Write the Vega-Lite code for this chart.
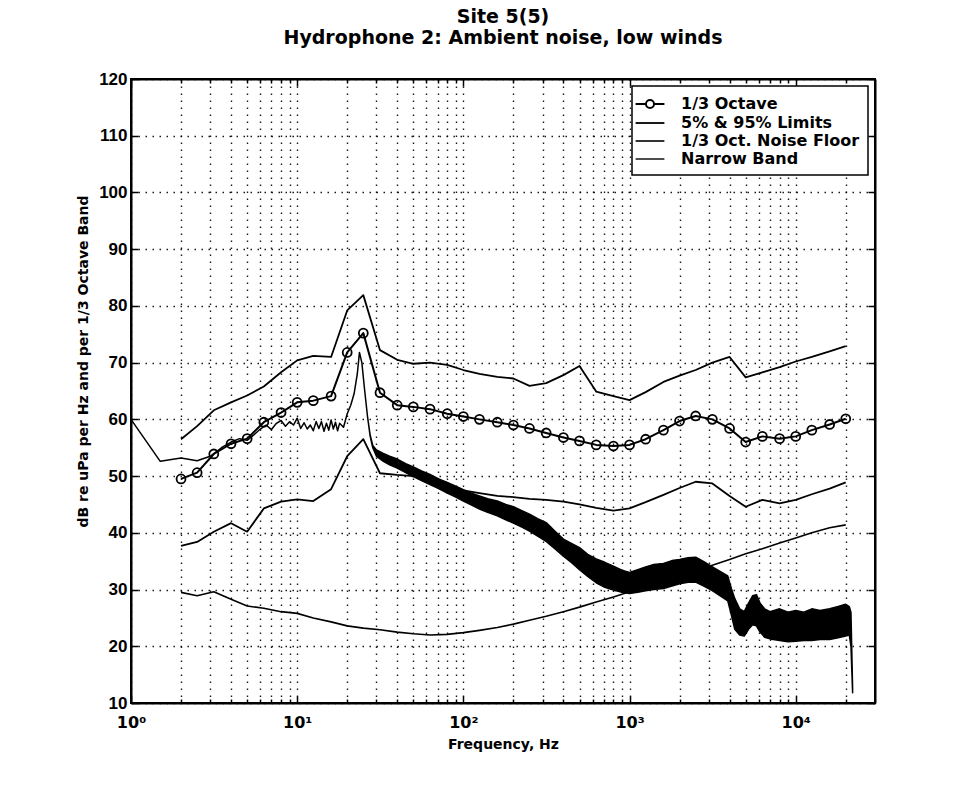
{
  "$schema": "https://vega.github.io/schema/vega-lite/v6.json",
  "width": 744,
  "height": 624,
  "autosize": {"type": "none"},
  "padding": {"left": 131, "top": 79, "right": 84, "bottom": 86},
  "background": "white",
  "title": {
    "text": ["Site 5(5)", "Hydrophone 2: Ambient noise, low winds"],
    "font": "DejaVu Sans",
    "fontSize": 19,
    "fontWeight": "bold",
    "lineHeight": 21,
    "anchor": "middle",
    "frame": "group",
    "offset": 22,
    "color": "black"
  },
  "config": {
    "view": {"stroke": "black", "strokeWidth": 2},
    "font": "DejaVu Sans"
  },
  "datasets": {
    "nb": [
      {"f":1,"lo":60,"hi":60},{"f":1.5,"lo":52.6,"hi":52.6},{"f":2,"lo":53.2,"hi":53.2},{"f":2.5,"lo":52.7,"hi":52.7},
      {"f":3,"lo":53.5,"hi":53.5},{"f":3.5,"lo":55.0,"hi":55.0},{"f":4,"lo":56.0,"hi":56.0},{"f":4.5,"lo":56.6,"hi":56.6},
      {"f":5,"lo":56.3,"hi":56.3},{"f":5.5,"lo":57.3,"hi":57.3},{"f":6,"lo":58.3,"hi":58.3},{"f":6.5,"lo":59.0,"hi":59.0},
      {"f":7,"lo":58.2,"hi":58.2},{"f":7.5,"lo":59.3,"hi":59.3},{"f":8,"lo":59.8,"hi":59.8},{"f":8.5,"lo":58.8,"hi":58.8},
      {"f":9,"lo":59.6,"hi":59.6},{"f":9.5,"lo":59.0,"hi":59.0},{"f":10,"lo":60.2,"hi":60.2},{"f":10.5,"lo":58.4,"hi":58.4},
      {"f":11,"lo":59.4,"hi":59.4},{"f":11.5,"lo":58.3,"hi":58.3},{"f":12,"lo":59.0,"hi":59.0},{"f":12.5,"lo":58.0,"hi":58.0},
      {"f":13,"lo":59.6,"hi":59.6},{"f":13.5,"lo":58.4,"hi":58.4},{"f":14,"lo":59.6,"hi":59.6},{"f":14.5,"lo":57.9,"hi":57.9},
      {"f":15,"lo":59.3,"hi":59.3},{"f":15.5,"lo":58.1,"hi":58.1},{"f":16,"lo":59.9,"hi":59.9},{"f":16.5,"lo":58.3,"hi":58.3},
      {"f":17,"lo":59.5,"hi":59.5},{"f":17.5,"lo":58.0,"hi":58.0},{"f":18,"lo":59.3,"hi":59.3},{"f":19,"lo":58.6,"hi":58.6},
      {"f":19.5,"lo":59.8,"hi":59.8},{"f":20,"lo":61.0,"hi":61.0},{"f":21,"lo":62.5,"hi":62.5},{"f":22,"lo":64.5,"hi":64.5},
      {"f":23,"lo":68.0,"hi":68.0},{"f":23.7,"lo":71.8,"hi":71.8},{"f":24.5,"lo":70.0,"hi":70.0},{"f":25.5,"lo":65.0,"hi":65.0},
      {"f":26.5,"lo":60.5,"hi":60.5},{"f":27.5,"lo":57.0,"hi":57.2},{"f":28.5,"lo":55.0,"hi":55.4},{"f":30,"lo":53.5,"hi":54.6},
      {"f":33,"lo":52.6,"hi":54.0},{"f":36,"lo":52.0,"hi":53.5},{"f":40,"lo":51.4,"hi":53.0},{"f":45,"lo":50.6,"hi":52.2},
      {"f":50,"lo":49.9,"hi":51.6},{"f":56,"lo":49.2,"hi":50.9},{"f":63,"lo":48.5,"hi":50.3},{"f":71,"lo":47.8,"hi":49.5},
      {"f":80,"lo":47.0,"hi":48.9},{"f":90,"lo":46.3,"hi":48.2},{"f":100,"lo":45.6,"hi":47.6},{"f":112,"lo":44.9,"hi":47.0},
      {"f":125,"lo":44.2,"hi":46.5},{"f":140,"lo":43.6,"hi":46.0},{"f":160,"lo":43.0,"hi":45.6},{"f":180,"lo":42.3,"hi":45.0},
      {"f":200,"lo":41.7,"hi":44.6},{"f":225,"lo":41.0,"hi":43.9},{"f":250,"lo":40.3,"hi":43.3},{"f":280,"lo":39.4,"hi":42.5},
      {"f":315,"lo":38.5,"hi":41.8},{"f":355,"lo":37.2,"hi":40.3},{"f":400,"lo":35.9,"hi":38.9},{"f":450,"lo":34.7,"hi":38.1},
      {"f":500,"lo":33.5,"hi":37.4},{"f":560,"lo":32.3,"hi":36.2},{"f":630,"lo":31.2,"hi":35.4},{"f":710,"lo":30.4,"hi":34.8},
      {"f":800,"lo":29.9,"hi":34.1},{"f":900,"lo":29.5,"hi":33.4},{"f":1000,"lo":29.3,"hi":33.0},{"f":1120,"lo":29.5,"hi":33.5},
      {"f":1250,"lo":29.8,"hi":34.0},{"f":1400,"lo":30.0,"hi":34.4},{"f":1600,"lo":30.2,"hi":34.6},{"f":1800,"lo":30.6,"hi":35.1},
      {"f":2000,"lo":31.0,"hi":35.3},{"f":2250,"lo":31.3,"hi":35.6},{"f":2500,"lo":31.3,"hi":35.7},{"f":2800,"lo":30.6,"hi":34.9},
      {"f":3150,"lo":29.8,"hi":34.0},{"f":3550,"lo":28.8,"hi":33.1},{"f":3900,"lo":28.0,"hi":32.4},{"f":4100,"lo":25.5,"hi":30.2},
      {"f":4300,"lo":23.0,"hi":28.4},{"f":4600,"lo":22.0,"hi":26.6},{"f":4900,"lo":21.8,"hi":26.1},{"f":5200,"lo":23.0,"hi":27.6},
      {"f":5500,"lo":23.8,"hi":28.9},{"f":5800,"lo":23.6,"hi":29.1},{"f":6100,"lo":22.5,"hi":27.6},{"f":6500,"lo":21.6,"hi":26.6},
      {"f":7000,"lo":21.3,"hi":26.1},{"f":8000,"lo":21.0,"hi":26.6},{"f":9000,"lo":20.8,"hi":26.0},{"f":10000,"lo":20.9,"hi":26.3},
      {"f":11200,"lo":21.0,"hi":26.0},{"f":12500,"lo":21.0,"hi":26.6},{"f":14000,"lo":21.2,"hi":26.3},{"f":16000,"lo":21.2,"hi":26.6},
      {"f":18000,"lo":21.5,"hi":27.0},{"f":20000,"lo":21.8,"hi":27.4},{"f":21000,"lo":22.0,"hi":27.0},{"f":21500,"lo":20.0,"hi":26.0},
      {"f":22000,"lo":11.8,"hi":12.5}
    ],
    "lines": [
      {"s":"1/3 Octave","g":"oct","f":2,"v":49.5},{"s":"1/3 Octave","g":"oct","f":2.5,"v":50.6},{"s":"1/3 Octave","g":"oct","f":3.15,"v":53.9},
      {"s":"1/3 Octave","g":"oct","f":4,"v":55.7},{"s":"1/3 Octave","g":"oct","f":5,"v":56.6},{"s":"1/3 Octave","g":"oct","f":6.3,"v":59.5},
      {"s":"1/3 Octave","g":"oct","f":8,"v":61.2},{"s":"1/3 Octave","g":"oct","f":10,"v":63.0},{"s":"1/3 Octave","g":"oct","f":12.5,"v":63.3},
      {"s":"1/3 Octave","g":"oct","f":16,"v":64.1},{"s":"1/3 Octave","g":"oct","f":20,"v":71.8},{"s":"1/3 Octave","g":"oct","f":25,"v":75.2},
      {"s":"1/3 Octave","g":"oct","f":31.5,"v":64.7},{"s":"1/3 Octave","g":"oct","f":40,"v":62.5},{"s":"1/3 Octave","g":"oct","f":50,"v":62.2},
      {"s":"1/3 Octave","g":"oct","f":63,"v":61.8},{"s":"1/3 Octave","g":"oct","f":80,"v":61.0},{"s":"1/3 Octave","g":"oct","f":100,"v":60.5},
      {"s":"1/3 Octave","g":"oct","f":125,"v":60.0},{"s":"1/3 Octave","g":"oct","f":160,"v":59.5},{"s":"1/3 Octave","g":"oct","f":200,"v":59.0},
      {"s":"1/3 Octave","g":"oct","f":250,"v":58.4},{"s":"1/3 Octave","g":"oct","f":315,"v":57.6},{"s":"1/3 Octave","g":"oct","f":400,"v":56.8},
      {"s":"1/3 Octave","g":"oct","f":500,"v":56.2},{"s":"1/3 Octave","g":"oct","f":630,"v":55.5},{"s":"1/3 Octave","g":"oct","f":800,"v":55.3},
      {"s":"1/3 Octave","g":"oct","f":1000,"v":55.5},{"s":"1/3 Octave","g":"oct","f":1250,"v":56.5},{"s":"1/3 Octave","g":"oct","f":1600,"v":58.1},
      {"s":"1/3 Octave","g":"oct","f":2000,"v":59.7},{"s":"1/3 Octave","g":"oct","f":2500,"v":60.6},{"s":"1/3 Octave","g":"oct","f":3150,"v":60.0},
      {"s":"1/3 Octave","g":"oct","f":4000,"v":58.4},{"s":"1/3 Octave","g":"oct","f":5000,"v":56.0},{"s":"1/3 Octave","g":"oct","f":6300,"v":57.0},
      {"s":"1/3 Octave","g":"oct","f":8000,"v":56.6},{"s":"1/3 Octave","g":"oct","f":10000,"v":57.0},{"s":"1/3 Octave","g":"oct","f":12500,"v":58.1},
      {"s":"1/3 Octave","g":"oct","f":16000,"v":59.1},{"s":"1/3 Octave","g":"oct","f":20000,"v":60.1},

      {"s":"5% & 95% Limits","g":"p95","f":2,"v":56.5},{"s":"5% & 95% Limits","g":"p95","f":2.5,"v":58.8},{"s":"5% & 95% Limits","g":"p95","f":3.15,"v":61.6},
      {"s":"5% & 95% Limits","g":"p95","f":4,"v":63.0},{"s":"5% & 95% Limits","g":"p95","f":5,"v":64.2},{"s":"5% & 95% Limits","g":"p95","f":6.3,"v":65.8},
      {"s":"5% & 95% Limits","g":"p95","f":8,"v":68.3},{"s":"5% & 95% Limits","g":"p95","f":10,"v":70.4},{"s":"5% & 95% Limits","g":"p95","f":12.5,"v":71.2},
      {"s":"5% & 95% Limits","g":"p95","f":16,"v":71.0},{"s":"5% & 95% Limits","g":"p95","f":20,"v":79.2},{"s":"5% & 95% Limits","g":"p95","f":25,"v":81.9},
      {"s":"5% & 95% Limits","g":"p95","f":31.5,"v":72.2},{"s":"5% & 95% Limits","g":"p95","f":40,"v":70.5},{"s":"5% & 95% Limits","g":"p95","f":50,"v":69.8},
      {"s":"5% & 95% Limits","g":"p95","f":63,"v":70.0},{"s":"5% & 95% Limits","g":"p95","f":80,"v":69.6},{"s":"5% & 95% Limits","g":"p95","f":100,"v":68.7},
      {"s":"5% & 95% Limits","g":"p95","f":125,"v":68.0},{"s":"5% & 95% Limits","g":"p95","f":160,"v":67.5},{"s":"5% & 95% Limits","g":"p95","f":200,"v":67.2},
      {"s":"5% & 95% Limits","g":"p95","f":250,"v":65.9},{"s":"5% & 95% Limits","g":"p95","f":315,"v":66.4},{"s":"5% & 95% Limits","g":"p95","f":400,"v":67.8},
      {"s":"5% & 95% Limits","g":"p95","f":500,"v":69.4},{"s":"5% & 95% Limits","g":"p95","f":630,"v":64.9},{"s":"5% & 95% Limits","g":"p95","f":800,"v":64.1},
      {"s":"5% & 95% Limits","g":"p95","f":1000,"v":63.4},{"s":"5% & 95% Limits","g":"p95","f":1250,"v":64.8},{"s":"5% & 95% Limits","g":"p95","f":1600,"v":66.6},
      {"s":"5% & 95% Limits","g":"p95","f":2000,"v":67.7},{"s":"5% & 95% Limits","g":"p95","f":2500,"v":68.7},{"s":"5% & 95% Limits","g":"p95","f":3150,"v":70.0},
      {"s":"5% & 95% Limits","g":"p95","f":4000,"v":71.0},{"s":"5% & 95% Limits","g":"p95","f":5000,"v":67.4},{"s":"5% & 95% Limits","g":"p95","f":6300,"v":68.3},
      {"s":"5% & 95% Limits","g":"p95","f":8000,"v":69.2},{"s":"5% & 95% Limits","g":"p95","f":10000,"v":70.2},{"s":"5% & 95% Limits","g":"p95","f":12500,"v":71.0},
      {"s":"5% & 95% Limits","g":"p95","f":16000,"v":72.0},{"s":"5% & 95% Limits","g":"p95","f":20000,"v":72.9},

      {"s":"5% & 95% Limits","g":"p05","f":2,"v":37.7},{"s":"5% & 95% Limits","g":"p05","f":2.5,"v":38.4},{"s":"5% & 95% Limits","g":"p05","f":3.15,"v":40.2},
      {"s":"5% & 95% Limits","g":"p05","f":4,"v":41.7},{"s":"5% & 95% Limits","g":"p05","f":5,"v":40.2},{"s":"5% & 95% Limits","g":"p05","f":6.3,"v":44.3},
      {"s":"5% & 95% Limits","g":"p05","f":8,"v":45.5},{"s":"5% & 95% Limits","g":"p05","f":10,"v":45.9},{"s":"5% & 95% Limits","g":"p05","f":12.5,"v":45.6},
      {"s":"5% & 95% Limits","g":"p05","f":16,"v":47.7},{"s":"5% & 95% Limits","g":"p05","f":20,"v":53.5},{"s":"5% & 95% Limits","g":"p05","f":25,"v":56.5},
      {"s":"5% & 95% Limits","g":"p05","f":31.5,"v":50.5},{"s":"5% & 95% Limits","g":"p05","f":40,"v":50.2},{"s":"5% & 95% Limits","g":"p05","f":50,"v":50.0},
      {"s":"5% & 95% Limits","g":"p05","f":63,"v":49.5},{"s":"5% & 95% Limits","g":"p05","f":80,"v":48.5},{"s":"5% & 95% Limits","g":"p05","f":100,"v":47.5},
      {"s":"5% & 95% Limits","g":"p05","f":125,"v":47.0},{"s":"5% & 95% Limits","g":"p05","f":160,"v":46.5},{"s":"5% & 95% Limits","g":"p05","f":200,"v":46.3},
      {"s":"5% & 95% Limits","g":"p05","f":250,"v":46.0},{"s":"5% & 95% Limits","g":"p05","f":315,"v":45.8},{"s":"5% & 95% Limits","g":"p05","f":400,"v":45.5},
      {"s":"5% & 95% Limits","g":"p05","f":500,"v":45.0},{"s":"5% & 95% Limits","g":"p05","f":630,"v":44.4},{"s":"5% & 95% Limits","g":"p05","f":800,"v":43.9},
      {"s":"5% & 95% Limits","g":"p05","f":1000,"v":44.3},{"s":"5% & 95% Limits","g":"p05","f":1250,"v":45.4},{"s":"5% & 95% Limits","g":"p05","f":1600,"v":46.7},
      {"s":"5% & 95% Limits","g":"p05","f":2000,"v":47.9},{"s":"5% & 95% Limits","g":"p05","f":2500,"v":49.0},{"s":"5% & 95% Limits","g":"p05","f":3150,"v":48.7},
      {"s":"5% & 95% Limits","g":"p05","f":4000,"v":46.5},{"s":"5% & 95% Limits","g":"p05","f":5000,"v":44.6},{"s":"5% & 95% Limits","g":"p05","f":6300,"v":45.8},
      {"s":"5% & 95% Limits","g":"p05","f":8000,"v":45.2},{"s":"5% & 95% Limits","g":"p05","f":10000,"v":45.8},{"s":"5% & 95% Limits","g":"p05","f":12500,"v":46.8},
      {"s":"5% & 95% Limits","g":"p05","f":16000,"v":47.8},{"s":"5% & 95% Limits","g":"p05","f":20000,"v":48.9},

      {"s":"1/3 Oct. Noise Floor","g":"nf","f":2,"v":29.5},{"s":"1/3 Oct. Noise Floor","g":"nf","f":2.5,"v":28.9},{"s":"1/3 Oct. Noise Floor","g":"nf","f":3.15,"v":29.6},
      {"s":"1/3 Oct. Noise Floor","g":"nf","f":4,"v":28.3},{"s":"1/3 Oct. Noise Floor","g":"nf","f":5,"v":27.1},{"s":"1/3 Oct. Noise Floor","g":"nf","f":6.3,"v":26.7},
      {"s":"1/3 Oct. Noise Floor","g":"nf","f":8,"v":26.1},{"s":"1/3 Oct. Noise Floor","g":"nf","f":10,"v":25.8},{"s":"1/3 Oct. Noise Floor","g":"nf","f":12.5,"v":25.0},
      {"s":"1/3 Oct. Noise Floor","g":"nf","f":16,"v":24.3},{"s":"1/3 Oct. Noise Floor","g":"nf","f":20,"v":23.6},{"s":"1/3 Oct. Noise Floor","g":"nf","f":25,"v":23.2},
      {"s":"1/3 Oct. Noise Floor","g":"nf","f":31.5,"v":22.9},{"s":"1/3 Oct. Noise Floor","g":"nf","f":40,"v":22.5},{"s":"1/3 Oct. Noise Floor","g":"nf","f":50,"v":22.2},
      {"s":"1/3 Oct. Noise Floor","g":"nf","f":63,"v":22.0},{"s":"1/3 Oct. Noise Floor","g":"nf","f":80,"v":22.1},{"s":"1/3 Oct. Noise Floor","g":"nf","f":100,"v":22.4},
      {"s":"1/3 Oct. Noise Floor","g":"nf","f":125,"v":22.8},{"s":"1/3 Oct. Noise Floor","g":"nf","f":160,"v":23.3},{"s":"1/3 Oct. Noise Floor","g":"nf","f":200,"v":23.9},
      {"s":"1/3 Oct. Noise Floor","g":"nf","f":250,"v":24.6},{"s":"1/3 Oct. Noise Floor","g":"nf","f":315,"v":25.3},{"s":"1/3 Oct. Noise Floor","g":"nf","f":400,"v":26.1},
      {"s":"1/3 Oct. Noise Floor","g":"nf","f":500,"v":26.9},{"s":"1/3 Oct. Noise Floor","g":"nf","f":630,"v":27.8},{"s":"1/3 Oct. Noise Floor","g":"nf","f":800,"v":28.7},
      {"s":"1/3 Oct. Noise Floor","g":"nf","f":1000,"v":29.6},{"s":"1/3 Oct. Noise Floor","g":"nf","f":1250,"v":30.5},{"s":"1/3 Oct. Noise Floor","g":"nf","f":1600,"v":31.5},
      {"s":"1/3 Oct. Noise Floor","g":"nf","f":2000,"v":32.4},{"s":"1/3 Oct. Noise Floor","g":"nf","f":2500,"v":33.4},{"s":"1/3 Oct. Noise Floor","g":"nf","f":3150,"v":34.3},
      {"s":"1/3 Oct. Noise Floor","g":"nf","f":4000,"v":35.3},{"s":"1/3 Oct. Noise Floor","g":"nf","f":5000,"v":36.3},{"s":"1/3 Oct. Noise Floor","g":"nf","f":6300,"v":37.2},
      {"s":"1/3 Oct. Noise Floor","g":"nf","f":8000,"v":38.2},{"s":"1/3 Oct. Noise Floor","g":"nf","f":10000,"v":39.1},{"s":"1/3 Oct. Noise Floor","g":"nf","f":12500,"v":40.0},
      {"s":"1/3 Oct. Noise Floor","g":"nf","f":16000,"v":40.9},{"s":"1/3 Oct. Noise Floor","g":"nf","f":20000,"v":41.4}
    ]
  },
  "layer": [
    {
      "data": {"name": "nb"},
      "mark": {"type": "area", "color": "black", "stroke": "black", "strokeWidth": 1.5, "strokeJoin": "round"},
      "encoding": {
        "x": {
          "field": "f", "type": "quantitative",
          "scale": {"type": "log", "domain": [1, 30000], "nice": false},
          "axis": {
            "orient": "bottom",
            "values": [1,2,3,4,5,6,7,8,9,10,20,30,40,50,60,70,80,90,100,200,300,400,500,600,700,800,900,1000,2000,3000,4000,5000,6000,7000,8000,9000,10000,20000],
            "labelExpr": "datum.value === 1 ? '10⁰' : datum.value === 10 ? '10¹' : datum.value === 100 ? '10²' : datum.value === 1000 ? '10³' : datum.value === 10000 ? '10⁴' : ''",
            "labelOverlap": false,
            "labelBound": false,
            "labelFlush": false,
            "labelFont": "DejaVu Sans",
            "labelFontSize": 16,
            "labelFontWeight": "bold",
            "labelColor": "black",
            "labelPadding": 18,
            "tickSize": {"condition": {"test": "indexof([1,10,100,1000,10000], datum.value) >= 0", "value": -7}, "value": -4},
            "tickColor": "black",
            "tickWidth": 1.5,
            "domainColor": "black",
            "domainWidth": 2,
            "grid": true,
            "gridColor": "black",
            "gridDash": [1.5, 5.5],
            "gridWidth": 1.4,
            "gridOpacity": 0.9,
            "title": "Frequency, Hz",
            "titleFont": "DejaVu Sans",
            "titleFontSize": 14,
            "titleFontWeight": "bold",
            "titleColor": "black",
            "titlePadding": 4
          }
        },
        "y": {
          "field": "lo", "type": "quantitative",
          "scale": {"domain": [10, 120], "nice": false},
          "axis": {
            "orient": "left",
            "values": [10,20,30,40,50,60,70,80,90,100,110,120],
            "labelFont": "Liberation Sans",
            "labelFontSize": 17,
            "labelFontWeight": "bold",
            "labelColor": "black",
            "labelPadding": 11,
            "tickSize": -7,
            "tickColor": "black",
            "tickWidth": 1.5,
            "domainColor": "black",
            "domainWidth": 2,
            "grid": true,
            "gridColor": "black",
            "gridDash": [1.5, 5.5],
            "gridWidth": 1.4,
            "gridOpacity": 0.9,
            "title": "dB re uPa per Hz and per 1/3 Octave Band",
            "titleFont": "DejaVu Sans",
            "titleFontSize": 14,
            "titleFontWeight": "bold",
            "titleColor": "black",
            "titlePadding": 8,
            "titleY": 282
          }
        },
        "y2": {"field": "hi"}
      }
    },
    {
      "data": {"name": "lines"},
      "mark": {"type": "line", "strokeJoin": "round"},
      "encoding": {
        "x": {
          "field": "f", "type": "quantitative",
          "axis": {
            "orient": "top",
            "values": [1,2,3,4,5,6,7,8,9,10,20,30,40,50,60,70,80,90,100,200,300,400,500,600,700,800,900,1000,2000,3000,4000,5000,6000,7000,8000,9000,10000,20000],
            "labels": false,
            "grid": false,
            "title": null,
            "tickSize": {"condition": {"test": "indexof([1,10,100,1000,10000], datum.value) >= 0", "value": -7}, "value": -4},
            "tickColor": "black",
            "tickWidth": 1.5,
            "domainColor": "black",
            "domainWidth": 2
          }
        },
        "y": {
          "field": "v", "type": "quantitative",
          "axis": {
            "orient": "right",
            "values": [10,20,30,40,50,60,70,80,90,100,110,120],
            "labels": false,
            "grid": false,
            "title": null,
            "tickSize": -7,
            "tickColor": "black",
            "tickWidth": 1.5,
            "domainColor": "black",
            "domainWidth": 2
          }
        },
        "detail": {"field": "g"},
        "color": {
          "field": "s", "type": "nominal",
          "scale": {"domain": ["1/3 Octave", "5% & 95% Limits", "1/3 Oct. Noise Floor", "Narrow Band"], "range": ["black", "black", "black", "black"]},
          "legend": {
            "title": null,
            "orient": "top-right",
            "offset": 7,
            "padding": 8,
            "rowPadding": 0,
            "fillColor": "white",
            "strokeColor": "black",
            "labelFont": "DejaVu Sans",
            "labelFontSize": 16,
            "labelFontWeight": "bold",
            "labelColor": "black",
            "labelLimit": 300,
            "labelOffset": 21,
            "symbolSize": 324,
            "symbolStrokeWidth": 1.6,
            "encode": {
              "legend": {"update": {"stroke": {"value": "black"}, "strokeWidth": {"value": 1.5}, "fill": {"value": "white"}}},
              "symbols": {"update": {
                "shape": {"signal": "datum.value === '1/3 Octave' ? 'M-1.6,0H-0.45M0.45,0H1.6M0.45,0A0.45,0.45,0,1,1,-0.45,0A0.45,0.45,0,1,1,0.45,0' : 'M-1.6,0H1.6'"},
                "fill": {"value": "transparent"},
                "stroke": {"value": "black"},
                "strokeWidth": {"value": 1.6}
              }}
            }
          }
        },
        "strokeWidth": {
          "field": "s", "type": "nominal",
          "scale": {"domain": ["1/3 Octave", "5% & 95% Limits", "1/3 Oct. Noise Floor", "Narrow Band"], "range": [2, 1.4, 2.6, 1.5]},
          "legend": null
        }
      }
    },
    {
      "data": {"name": "lines"},
      "transform": [{"filter": "datum.s === '1/3 Octave'"}],
      "mark": {"type": "point", "shape": "circle", "filled": false, "size": 80, "stroke": "black", "strokeWidth": 1.8, "opacity": 1},
      "encoding": {
        "x": {"field": "f", "type": "quantitative", "axis": null},
        "y": {"field": "v", "type": "quantitative", "axis": null}
      }
    }
  ],
  "resolve": {"axis": {"x": "independent", "y": "independent"}}
}
